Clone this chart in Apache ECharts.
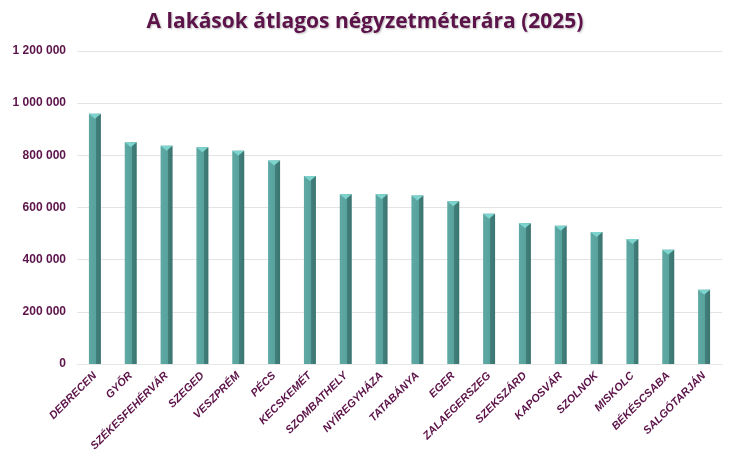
<!DOCTYPE html>
<html>
<head>
<meta charset="utf-8">
<script src="https://cdn.jsdelivr.net/npm/echarts@6/dist/echarts.min.js"></script>
<style>
  html, body { margin: 0; padding: 0; background: #fff; }
  #chart { width: 730px; height: 475px; }
</style>
</head>
<body>
<div id="chart"></div>
<script>
const titleText = 'A lakások átlagos négyzetméterára (2025)'
const cities = ['DEBRECEN', 'GYŐR', 'SZÉKESFEHÉRVÁR', 'SZEGED', 'VESZPRÉM', 'PÉCS', 'KECSKEMÉT',
  'SZOMBATHELY', 'NYÍREGYHÁZA', 'TATABÁNYA', 'EGER', 'ZALAEGERSZEG', 'SZEKSZÁRD', 'KAPOSVÁR',
  'SZOLNOK', 'MISKOLC', 'BÉKÉSCSABA', 'SALGÓTARJÁN']
const prices = [959000, 850000, 837000, 831000, 818000, 780000, 721000,
  651000, 651000, 646000, 624000, 576000, 540000, 530000,
  506000, 479000, 438000, 285000]

const purple = '#5c1349'

const fmt = v => String(v).replace(/\B(?=(\d{3})+(?!\d))/g, ' ')

const chart = echarts.init(document.getElementById('chart'))

const option = {
  animation: false,
  title: {
    text: titleText,
    left: 'center',
    top: 7,
    textStyle: {
      fontFamily: 'Open Sans',
      fontSize: 21,
      fontWeight: 'bold',
      color: purple,
      textShadowColor: 'rgba(0,0,0,0.25)',
      textShadowBlur: 2,
      textShadowOffsetX: 1,
      textShadowOffsetY: 1
    }
  },
  grid: {
    left: 77,
    right: 8,
    top: 51,
    bottom: 111
  },
  xAxis: {
    type: 'category',
    data: cities,
    axisTick: { show: false },
    axisLine: { lineStyle: { color: '#e6e6e6' } },
    axisLabel: {
      interval: 0,
      rotate: 45,
      margin: 10,
      fontFamily: 'Liberation Sans',
      fontSize: 11,
      fontWeight: 'bold',
      fontStyle: 'italic',
      color: purple
    }
  },
  yAxis: {
    type: 'value',
    min: 0,
    max: 1200000,
    interval: 200000,
    axisLine: { show: false },
    axisTick: { show: false },
    splitLine: { lineStyle: { color: '#e3e3e3' } },
    axisLabel: {
      margin: 11,
      fontFamily: 'Liberation Sans',
      fontSize: 12,
      fontWeight: 'bold',
      color: purple,
      formatter: fmt
    }
  },
  series: [
    {
      name: 'ár',
      type: 'bar',
      data: prices,
      barWidth: 12,
      itemStyle: {
        color: {
          type: 'linear', x: 0, y: 0, x2: 1, y2: 0,
          colorStops: [
            { offset: 0, color: '#5fa9a4' },
            { offset: 0.6, color: '#58a29d' },
            { offset: 0.6, color: '#427f7b' },
            { offset: 1, color: '#3b7571' }
          ]
        }
      }
    },
    {
      name: 'cap',
      type: 'pictorialBar',
      data: prices,
      symbol: 'path://M0,0 L12,0 L6,5 Z',
      symbolSize: [12, 5],
      symbolPosition: 'end',
      symbolOffset: [0, 0],
      barGap: '-100%',
      z: 3,
      itemStyle: { color: '#7dd3cd' }
    }
  ]
}

chart.setOption(option)
</script>
</body>
</html>
